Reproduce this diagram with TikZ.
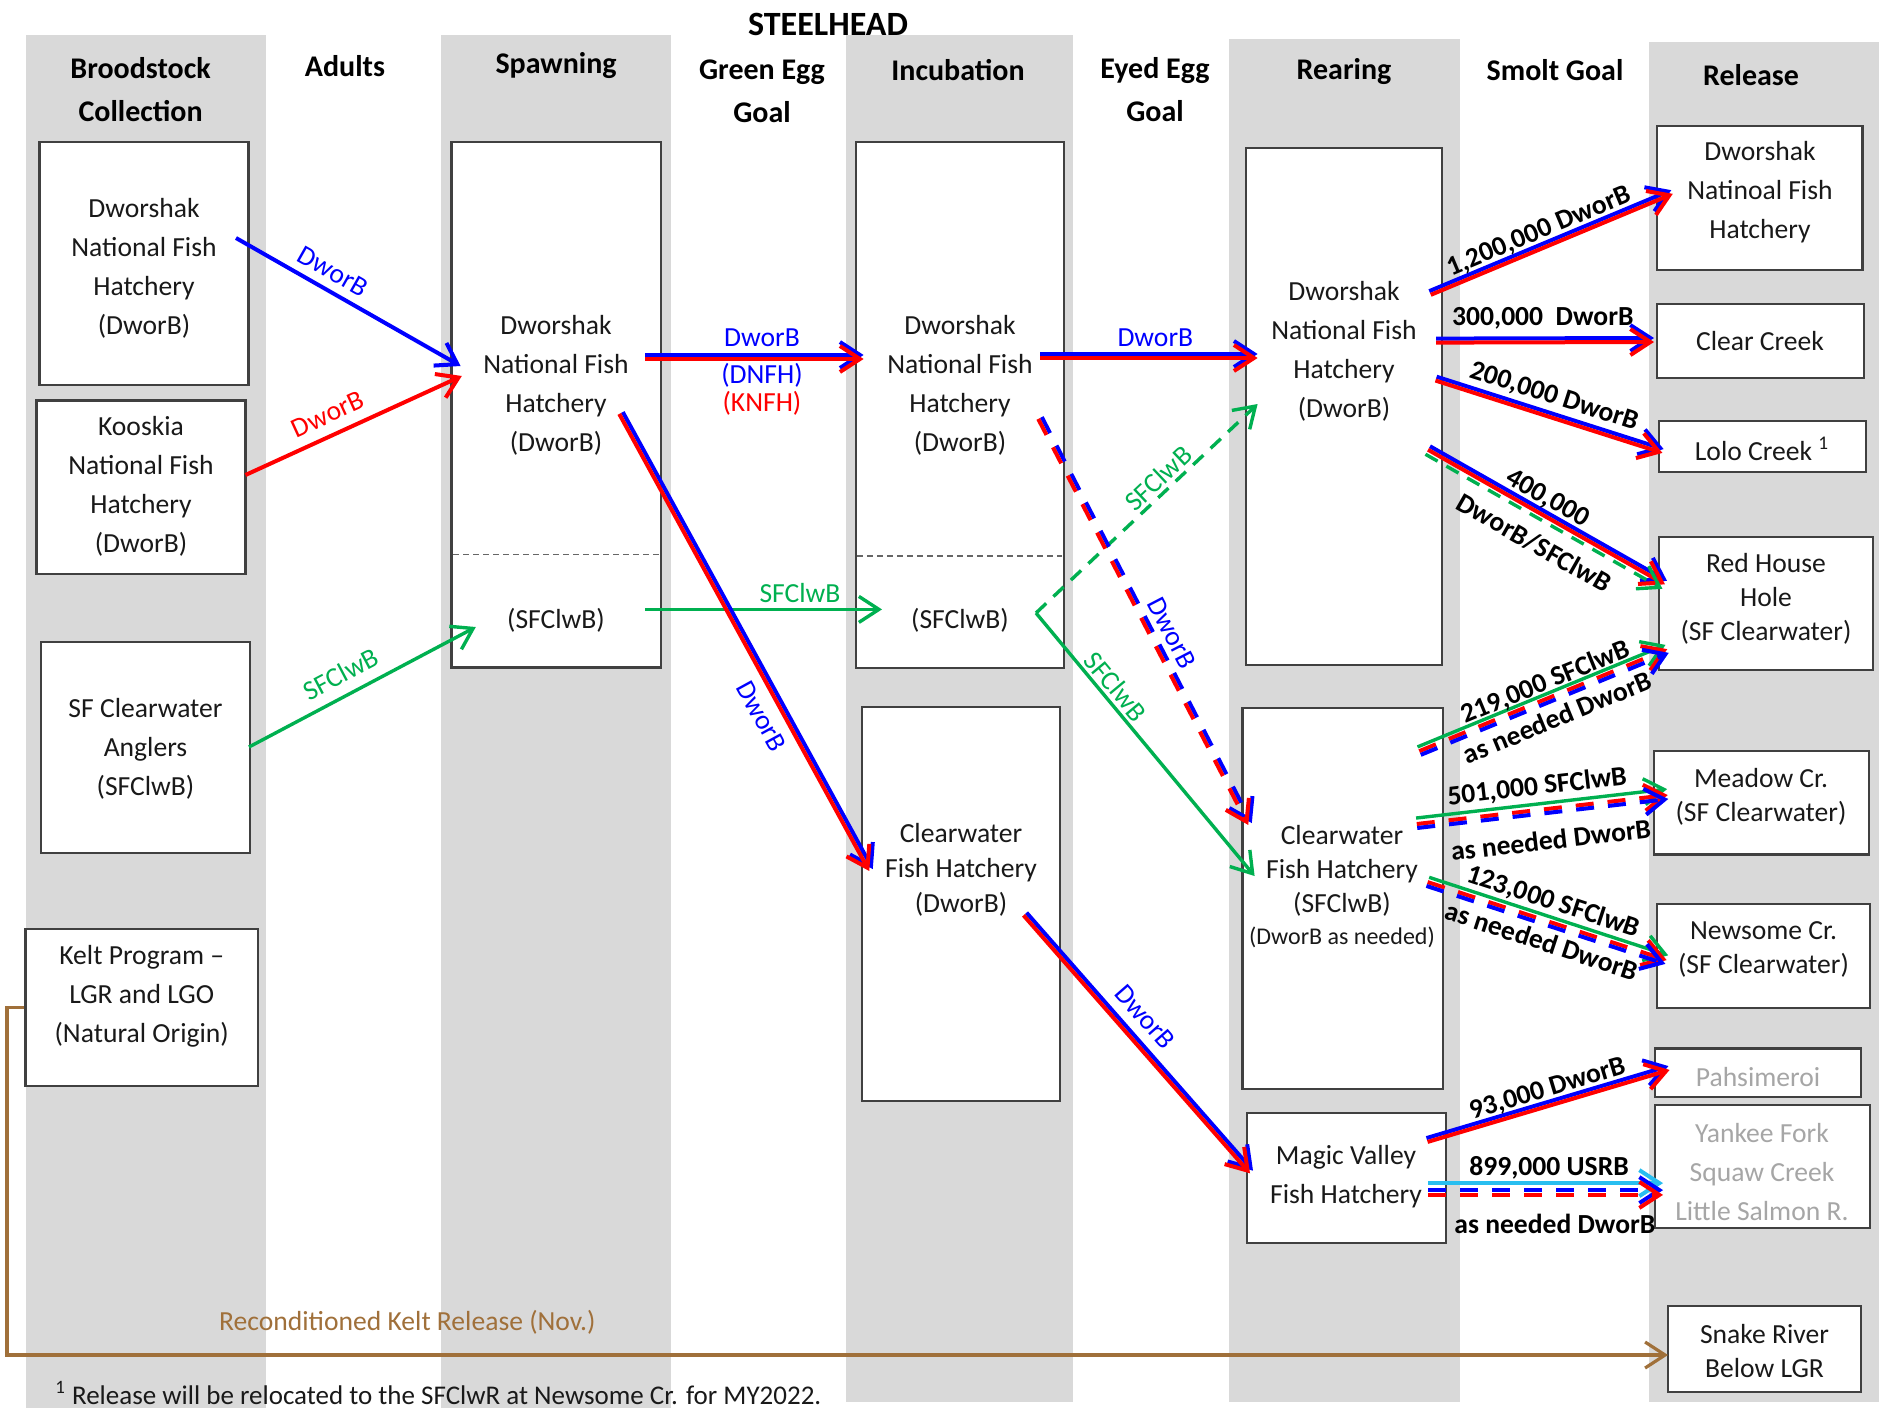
\documentclass[tikz,border=0pt]{standalone}
\usepackage{fontspec}
\setmainfont{Carlito}
\usetikzlibrary{arrows.meta,calc}
\definecolor{cblue}{RGB}{0,0,255}
\definecolor{cred}{RGB}{255,0,0}
\definecolor{cgreen}{RGB}{0,176,80}
\definecolor{ccyan}{RGB}{40,190,240}
\definecolor{cbrown}{RGB}{160,112,58}
\definecolor{colbg}{RGB}{217,217,217}
\definecolor{bord}{RGB}{64,64,64}
\definecolor{txtc}{RGB}{25,25,25}
\definecolor{graytxt}{RGB}{166,166,166}
\newcommand\mybox[5]{\node[box,minimum width={(#4-#2)*0.5pt},minimum height={(#5-#3)*0.5pt}] (#1) at ({(#2+#4)/2},{(#3+#5)/2}) {};}
\newcommand\offsetline[4][]{\draw[#1] ($(#2)!#4!90:(#3)$) -- ($(#3)!#4!-90:(#2)$);}
\begin{document}
\begin{tikzpicture}[x=0.5pt,y=-0.5pt,
  box/.style={draw=bord,line width=1.1pt,fill=white,inner sep=0pt},
  bt/.style={align=center,text=txtc,inner sep=0pt,font=\fontsize{13.8}{19.5}\selectfont},
  bts/.style={align=center,text=txtc,inner sep=0pt,font=\fontsize{13.8}{17}\selectfont},
  hd/.style={align=center,text=black,inner sep=0pt,font=\fontsize{15}{21.5}\selectfont\bfseries},
  arr/.style={-{Straight Barb[length=10pt,width=13pt]}},
  ln/.style={line width=2pt},
  gln/.style={line width=1.7pt},
  dsh/.style={dash pattern=on 9pt off 7pt},
  gdsh/.style={dash pattern=on 7pt off 5pt},
  sepl/.style={draw=bord!80,line width=0.7pt,dash pattern=on 3pt off 2pt},
  lab/.style={font=\fontsize{13.8}{15}\selectfont,inner sep=1.5pt},
  sl/.style={font=\fontsize{13.8}{15}\selectfont\bfseries,inner sep=1.5pt,text=black},
  kelt/.style={draw=cbrown,line width=1.6pt},
]
\fill[white] (0,0) rectangle (1889,1408);
\useasboundingbox (0,0) rectangle (1889,1408);
% columns
\fill[colbg] (25.5,35) rectangle (265.5,1408);
\fill[colbg] (440.6,35) rectangle (671,1408);
\fill[colbg] (845.5,35) rectangle (1073,1402);
\fill[colbg] (1229,39) rectangle (1460,1402);
\fill[colbg] (1649,42) rectangle (1879,1402);
% title and headers
\node[hd,font=\fontsize{17}{20}\selectfont\bfseries] (title) at (828,24) {STEELHEAD};
\node[hd] (h1) at (140.6,89.5) {Broodstock\\Collection};
\node[hd] (h2) at (345,66) {Adults};
\node[hd] (h3) at (556,66) {Spawning};
\node[hd] (h4) at (762,91) {Green Egg\\Goal};
\node[hd] (h5) at (958,70) {Incubation};
\node[hd] (h6) at (1155,90) {Eyed Egg\\Goal};
\node[hd] (h7) at (1344,72) {Rearing};
\node[hd] (h8) at (1555,70) {Smolt Goal};
\node[hd] (h9) at (1751,75) {Release};
% boxes
\mybox{b1}{39.4}{142}{248.5}{385}
\mybox{b2}{36.4}{400.4}{245.5}{573.7}
\mybox{b3}{41}{642}{250}{852.6}
\mybox{b4}{25.5}{929}{258}{1086}
\mybox{sp}{451.5}{142}{660.6}{667.4}
\mybox{inc}{855.8}{142}{1064}{668}
\mybox{cw5}{862}{707}{1060}{1101}
\mybox{rd}{1246}{148}{1442}{665}
\mybox{cw7}{1242.5}{707.7}{1443}{1089}
\mybox{mv}{1247}{1112.6}{1446}{1243}
\mybox{r1}{1657}{126}{1862.5}{270}
\mybox{r2}{1657}{303.6}{1864}{378}
\mybox{r3}{1659}{421}{1865.6}{472}
\mybox{r4}{1659}{537}{1873}{670}
\mybox{r5}{1654}{751}{1868.6}{854.4}
\mybox{r6}{1657}{904}{1870}{1008}
\mybox{r7}{1655}{1048.5}{1861}{1097.3}
\mybox{r8}{1655}{1105}{1870}{1228}
\mybox{r9}{1668}{1306}{1861}{1391.6}
\draw[sepl] (453,554.5) -- (659,554.5);
\draw[sepl] (857,556) -- (1062,556);
% box texts
\node[bt] (t1) at (144,268.5) {Dworshak\\National Fish\\Hatchery\\(DworB)};
\node[bt] (t2) at (141,486.6) {Kooskia\\National Fish\\Hatchery\\(DworB)};
\node[bt] (t3) at (145.5,748.5) {SF Clearwater\\Anglers\\(SFClwB)};
\node[bt] (t4) at (141.7,996.6) {Kelt Program \textendash\\LGR and LGO\\(Natural Origin)};
\node[bt] (tsp) at (556,385.5) {Dworshak\\National Fish\\Hatchery\\(DworB)};
\node[bt] (tsp2) at (556,620.5) {(SFClwB)};
\node[bt] (tinc) at (960,385.5) {Dworshak\\National Fish\\Hatchery\\(DworB)};
\node[bt] (tinc2) at (960,620.5) {(SFClwB)};
\node[bt,font=\fontsize{13.8}{17.5}\selectfont] (tcw5) at (961,870) {Clearwater\\Fish Hatchery\\(DworB)};
\node[bt] (trd) at (1344,351.8) {Dworshak\\National Fish\\Hatchery\\(DworB)};
\node[bts] (tcw7) at (1342,871) {Clearwater\\Fish Hatchery\\(SFClwB)};
\node[bt,font=\fontsize{12}{14}\selectfont] (tcw7b) at (1342,937) {(DworB as needed)};
\node[bt] (tmv) at (1346,1177) {Magic Valley\\Fish Hatchery};
\node[bt] (tr1) at (1760,192.5) {Dworshak\\Natinoal Fish\\Hatchery};
\node[bt] (tr2) at (1760,340.8) {Clear Creek};
\node[bt] (tr3) at (1762,448.7) {Lolo Creek \textsuperscript{1}};
\node[bts] (tr4) at (1766,598.7) {Red House\\Hole\\(SF Clearwater)};
\node[bts] (tr5) at (1761,797) {Meadow Cr.\\(SF Clearwater)};
\node[bts] (tr6) at (1763.5,949.7) {Newsome Cr.\\(SF Clearwater)};
\node[bt,text=graytxt] (tr7) at (1758,1077) {Pahsimeroi};
\node[bt,text=graytxt] (tr8) at (1762,1172) {Yankee Fork\\Squaw Creek\\Little Salmon R.};
\node[bts] (tr9) at (1764.5,1351) {Snake River\\Below LGR};
% connector end points
\coordinate (a1s) at (236,238);     \coordinate (a1e) at (460.6,366);
\coordinate (a2s) at (245.5,475);   \coordinate (a2e) at (461.8,376);
\coordinate (a3s) at (249,747);     \coordinate (a3e) at (475.8,627);
\coordinate (a4s) at (645,357);     \coordinate (a4e) at (863.6,357);
\coordinate (a5s) at (645,609.4);   \coordinate (a5e) at (882,609.4);
\coordinate (a6s) at (621,413);     \coordinate (a6e) at (871,870);
\coordinate (a7s) at (1040,356);    \coordinate (a7e) at (1257.6,356);
\coordinate (g0) at (1036,613);
\coordinate (a8e) at (1257.6,404);  \coordinate (a9e) at (1254.6,876);
\coordinate (a10s) at (1040,418);   \coordinate (a10e) at (1250,824);
\coordinate (a11s) at (1025,914);   \coordinate (a11e) at (1251.5,1172);
\coordinate (s1s) at (1430,293);    \coordinate (s1e) at (1672,192);
\coordinate (s2s) at (1436,340.6);  \coordinate (s2e) at (1654,340);
\coordinate (s3s) at (1436,378.6);  \coordinate (s3e) at (1663,451);
\coordinate (s4s) at (1429,448);    \coordinate (s4e) at (1666,582.6);
\coordinate (s5s) at (1420,753);    \coordinate (s5e) at (1668,651);
\coordinate (s6s) at (1417,826);    \coordinate (s6e) at (1668,797);
\coordinate (s7s) at (1427,884);    \coordinate (s7e) at (1666,962);
\coordinate (s8s) at (1427,1140);   \coordinate (s8e) at (1669,1068);
\coordinate (s9s) at (1428,1192.5); \coordinate (s9e) at (1663,1192.5);
\coordinate (k1) at (7,1007.5); \coordinate (k2) at (7,1355); \coordinate (k3) at (1668,1355);
% Adults
\draw[arr,ln,cblue] (a1s) -- node[lab,sloped,above=2.5pt,pos=.39,text=cblue]{DworB} (a1e);
\draw[arr,ln,cred] (a2s) -- node[lab,sloped,above=3.5pt,pos=.42,text=cred]{DworB} (a2e);
\draw[arr,gln,cgreen] (a3s) -- node[lab,sloped,above=3.5pt,pos=.45,text=cgreen]{SFClwB} (a3e);
% Green egg
\offsetline[arr,ln,cblue]{a4s}{a4e}{1pt}
\offsetline[arr,ln,cred]{a4s}{a4e}{-1pt}
\path (a4s) -- node[lab,above=3.5pt,pos=.535,text=cblue]{DworB}
  node[lab,below=1.5pt,pos=.535,align=center,font=\fontsize{13.8}{14}\selectfont]{\textcolor{cblue}{(DNFH)}\\\textcolor{cred}{(KNFH)}} (a4e);
\draw[arr,gln,cgreen] (a5s) -- node[lab,above=1pt,pos=.654,text=cgreen]{SFClwB} (a5e);
\offsetline[arr,ln,cblue]{a6s}{a6e}{1pt}
\offsetline[arr,ln,cred]{a6s}{a6e}{-1pt}
\path (a6s) -- node[lab,sloped,below=5pt,pos=.64,text=cblue]{DworB} (a6e);
% Eyed egg
\offsetline[arr,ln,cblue]{a7s}{a7e}{1pt}
\offsetline[arr,ln,cred]{a7s}{a7e}{-1pt}
\path (a7s) -- node[lab,above=3pt,pos=.53,text=cblue]{DworB} (a7e);
\draw[arr,gln,gdsh,cgreen] (g0) -- node[lab,sloped,above=0pt,pos=.595,text=cgreen]{SFClwB} (a8e);
\draw[arr,gln,cgreen] (g0) -- node[lab,sloped,above=0pt,pos=.314,text=cgreen]{SFClwB} (a9e);
\offsetline[arr,ln,dsh,cblue]{a10s}{a10e}{1pt}
\offsetline[arr,ln,dsh,cred]{a10s}{a10e}{-1pt}
\path (a10s) -- node[lab,sloped,above=3pt,pos=.55,text=cblue]{DworB} (a10e);
\offsetline[arr,ln,cblue]{a11s}{a11e}{1pt}
\offsetline[arr,ln,cred]{a11s}{a11e}{-1pt}
\path (a11s) -- node[lab,sloped,above=5pt,pos=.456,text=cblue]{DworB} (a11e);
% Smolt goal
\offsetline[arr,ln,cblue]{s1s}{s1e}{1pt}
\offsetline[arr,ln,cred]{s1s}{s1e}{-1pt}
\path (s1s) -- node[sl,sloped,above=0pt,pos=.473]{1,200,000 DworB} (s1e);
\offsetline[arr,ln,cblue]{s2s}{s2e}{1pt}
\offsetline[arr,ln,cred]{s2s}{s2e}{-1pt}
\path (s2s) -- node[sl,above=4pt,pos=.49]{300,000\ \ DworB} (s2e);
\offsetline[arr,ln,cblue]{s3s}{s3e}{1pt}
\offsetline[arr,ln,cred]{s3s}{s3e}{-1pt}
\path (s3s) -- node[sl,sloped,above=2pt,pos=.495]{200,000 DworB} (s3e);
\offsetline[arr,ln,cblue]{s4s}{s4e}{1pt}
\offsetline[arr,ln,cred]{s4s}{s4e}{-1pt}
\offsetline[arr,gln,gdsh,cgreen]{s4s}{s4e}{-3.6pt}
\path (s4s) -- node[sl,sloped,above=0pt,pos=.47]{400,000}
  node[sl,sloped,below=8.5pt,pos=.508]{DworB/SFClwB} (s4e);
\offsetline[arr,gln,cgreen]{s5s}{s5e}{3.3pt}
\offsetline[arr,ln,dsh,cred]{s5s}{s5e}{1pt}
\offsetline[arr,ln,dsh,cblue]{s5s}{s5e}{-1pt}
\path (s5s) -- node[sl,sloped,above=1.2pt,pos=.534]{219,000 SFClwB}
  node[sl,sloped,below=3pt,pos=.524]{as needed DworB} (s5e);
\offsetline[arr,gln,cgreen]{s6s}{s6e}{4pt}
\offsetline[arr,ln,dsh,cred]{s6s}{s6e}{1pt}
\offsetline[arr,ln,dsh,cblue]{s6s}{s6e}{-1pt}
\path (s6s) -- node[sl,sloped,above=5pt,pos=.49]{501,000 SFClwB}
  node[sl,sloped,below=8pt,pos=.52]{as needed DworB} (s6e);
\offsetline[arr,gln,cgreen]{s7s}{s7e}{3.5pt}
\offsetline[arr,ln,dsh,cred]{s7s}{s7e}{1pt}
\offsetline[arr,ln,dsh,cblue]{s7s}{s7e}{-1pt}
\path (s7s) -- node[sl,sloped,above=3.5pt,pos=.5]{123,000 SFClwB}
  node[sl,sloped,below=2.5pt,pos=.504]{as needed DworB} (s7e);
\offsetline[arr,ln,cblue]{s8s}{s8e}{1pt}
\offsetline[arr,ln,cred]{s8s}{s8e}{-1pt}
\path (s8s) -- node[sl,sloped,above=0pt,pos=.515]{93,000 DworB} (s8e);
\offsetline[arr,ln,ccyan]{s9s}{s9e}{4.7pt}
\offsetline[arr,ln,dsh,cblue]{s9s}{s9e}{1.2pt}
\offsetline[arr,ln,dsh,cred]{s9s}{s9e}{-1.2pt}
\path (s9s) -- node[sl,above=5pt,pos=.515]{899,000 USRB}
  node[sl,below=9pt,pos=.54]{as needed DworB} (s9e);
% kelt release
\draw[kelt,arr] (b4.west) -- (k1) -- (k2) -- node[pos=.241,above=8pt,lab,text=cbrown]{Reconditioned Kelt Release (Nov.)} (k3);
% footnote
\node[anchor=west,inner sep=0pt,text=txtc,font=\fontsize{13.5}{15}\selectfont] (fn) at (55,1393) {\textsuperscript{1} Release will be relocated to the SFClwR at Newsome Cr. for MY2022.};
\end{tikzpicture}
\end{document}
